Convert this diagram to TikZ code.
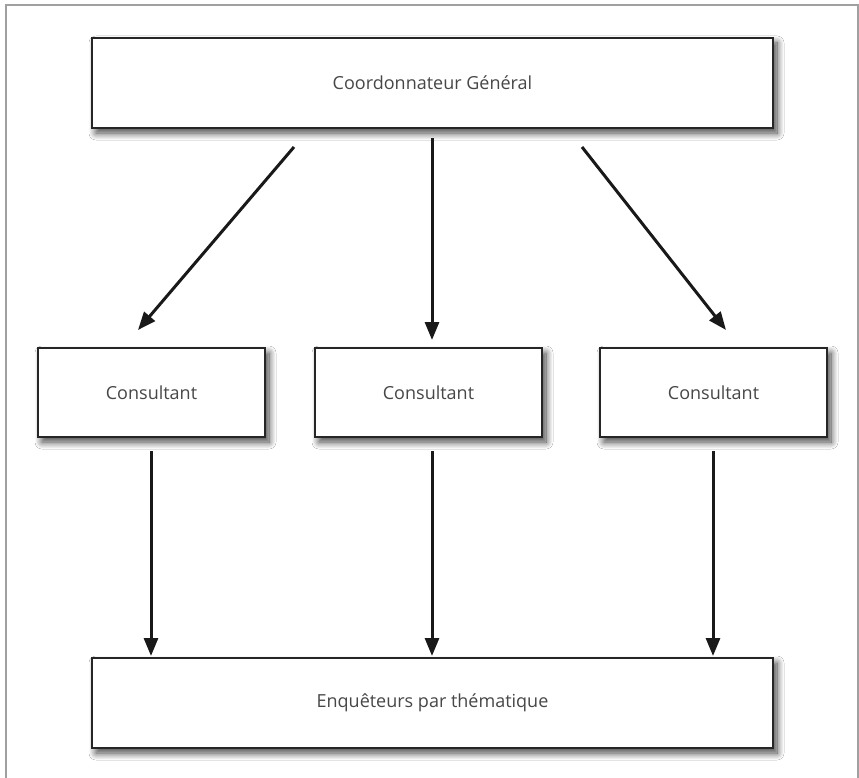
\documentclass[tikz,border=0pt]{standalone}
\usepackage{fontspec}
\setmainfont{Open Sans}
\usetikzlibrary{shadows.blur,arrows.meta}
\definecolor{txt}{HTML}{474747}
\definecolor{frame}{HTML}{A0A0A0}
\tikzset{
  box/.style={draw=black!85, line width=1.3pt, fill=white, minimum width=#1, inner sep=0pt,
    blur shadow={shadow xshift=4pt, shadow yshift=-5pt, shadow blur steps=12, shadow blur radius=7pt, shadow opacity=75},
    font=\fontsize{18}{21}\selectfont, text=txt},
  arr/.style={line width=3pt, draw=black!90, -{Triangle[length=18pt,width=14pt]}}
}
\begin{document}
\begin{tikzpicture}[x=1pt,y=-1pt]
\useasboundingbox (0,0) rectangle (859,778);
\fill[white] (0,0) rectangle (859,778);
\draw[frame, line width=1.5pt] (6,778) -- (6,5) -- (858,5) -- (858,778);
\node[box=681pt, minimum height=90pt] (top) at (432.5,83) {Coordonnateur Général};
\node[box=227pt, minimum height=89pt] (c1) at (151.5,392.5) {Consultant};
\node[box=227pt, minimum height=89pt] (c2) at (428.5,392.5) {Consultant};
\node[box=227pt, minimum height=89pt] (c3) at (713.5,392.5) {Consultant};
\node[box=681pt, minimum height=90pt] (bot) at (432.5,703) {Enquêteurs par thématique};
\coordinate (s1) at (294,147); \coordinate (e1) at (138,330);
\coordinate (s2) at (432,138); \coordinate (e2) at (432,340);
\coordinate (s3) at (582,147); \coordinate (e3) at (726,330);
\coordinate (t1) at (151,451); \coordinate (u1) at (151,656);
\coordinate (t2) at (432,451); \coordinate (u2) at (432,656);
\coordinate (t3) at (713,451); \coordinate (u3) at (713,656);
\draw[arr] (s1) -- (e1);
\draw[arr] (s2) -- (e2);
\draw[arr] (s3) -- (e3);
\draw[arr] (t1) -- (u1);
\draw[arr] (t2) -- (u2);
\draw[arr] (t3) -- (u3);
\end{tikzpicture}
\end{document}
